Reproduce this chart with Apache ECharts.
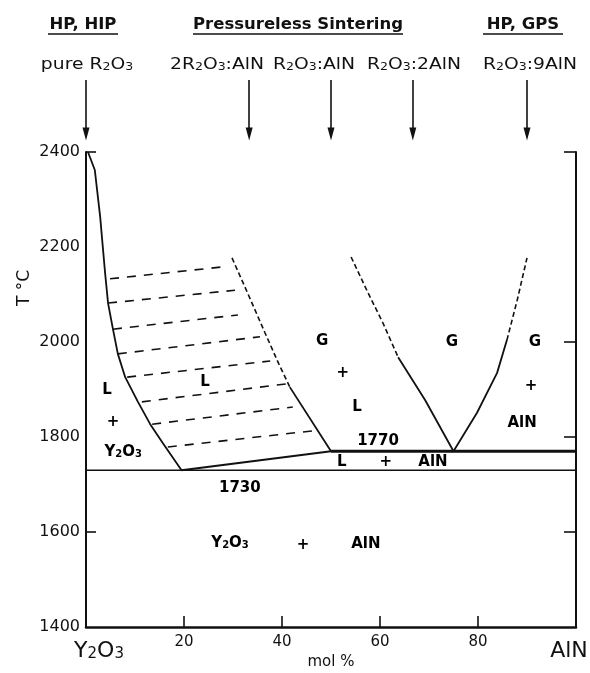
<!DOCTYPE html>
<html><head><meta charset="utf-8">
<script src="https://cdn.jsdelivr.net/npm/echarts@6/dist/echarts.min.js"></script>
<style>html,body{margin:0;padding:0;background:#fff}#c{width:590px;height:673px}</style>
</head><body><div id="c"></div>
<script>
// ---------- data ----------
const xTickLabels = [20, 40, 60, 80];
const yMin = 1400, yMax = 2400, yStep = 200;
const xMin = 0, xMax = 100;

const liquidusLeft = [[0.4,2400],[1.8,2362],[2.9,2263],[3.3,2215],[3.9,2145],[4.5,2082],[5.5,2027],[6.5,1975],[8.0,1926],[10.6,1874],[13.1,1827],[15.7,1787],[19.5,1730]];
const eutecticLine = [[19.5,1730],[50,1770]];
const line1770 = [[50,1770],[100,1770]];
const line1730 = [[0,1730],[100,1730]];
const boundaryDashed = [[29.8,2177],[33.2,2098],[36.5,2020],[39.3,1955],[41.6,1905]];
const boundarySolid = [[41.6,1905],[50,1770]];
const vLeftDashed = [[54.1,2179],[57.3,2109],[60.6,2040],[63.7,1968]];
const vLeftSolid = [[63.7,1968],[69.2,1878],[75,1770]];
const vRightSolid = [[75,1770],[79.8,1851],[83.9,1935],[85.9,2004]];
const vRightDashed = [[85.9,2004],[88.0,2088],[90.0,2177]];
const tieLines = [
  [[4.9,2133],[27.8,2158]],
  [[4.5,2082],[30.4,2109]],
  [[5.5,2027],[31.0,2057]],
  [[6.5,1975],[35.5,2011]],
  [[8.4,1926],[37.6,1960]],
  [[11.4,1874],[41.0,1912]],
  [[13.5,1827],[42.2,1863]],
  [[16.7,1779],[46.3,1813]]
];
const regionLabels = [
  ['G',48.2,2002],['G',74.7,2000],['G',91.6,2000],
  ['+',52.4,1935],['L',55.3,1863],['+',90.8,1907],['AlN',89.0,1829],
  ['1770',59.6,1792],['L',52.2,1747],['+',61.2,1747],['AlN',70.8,1747],
  ['L',4.3,1899],['+',5.5,1832],['Y2O3',7.6,1768],['L',24.3,1916],
  ['1730',31.4,1693],['Y2O3',29.4,1577],['+',44.3,1573],['AlN',57.1,1575]
];
const arrowCompositions = [0, 33.3, 50, 66.7, 90];
const arrowLabels = ['pure R2O3', '2R2O3:AlN', 'R2O3:AlN', 'R2O3:2AlN', 'R2O3:9AlN'];
const headings = ['HP, HIP', 'Pressureless Sintering', 'HP, GPS'];
const xName = 'mol %';
const yName = 'T °C';
const endLabels = ['Y2O3', 'AlN'];

// ---------- helpers ----------
const FONT = '"DejaVu Sans", "Liberation Sans", sans-serif';
const sub = s => s.replace(/([A-Za-z])(\d)/g, '$1{s|$2}');
const C = '#111';

function lineSeries(data, width, type) {
  return {
    type: 'line', xAxisIndex: 0, yAxisIndex: 0, data: data,
    showSymbol: false, symbol: 'none', silent: true, animation: false, clip: false,
    lineStyle: { color: C, width: width, type: type || 'solid' }
  };
}

const series = [
  lineSeries(liquidusLeft, 1.8),
  lineSeries(eutecticLine, 2.2),
  lineSeries(line1770, 3),
  lineSeries(line1730, 1.6),
  lineSeries(boundaryDashed, 1.6, [5, 3]),
  lineSeries(boundarySolid, 1.8),
  lineSeries(vLeftDashed, 1.6, [5, 3]),
  lineSeries(vLeftSolid, 1.8),
  lineSeries(vRightSolid, 1.8),
  lineSeries(vRightDashed, 1.6, [5, 3])
];
tieLines.forEach(t => series.push(lineSeries(t, 1.6, [9, 8])));

series.push({
  type: 'scatter', xAxisIndex: 0, yAxisIndex: 0, symbolSize: 0, silent: true, animation: false,
  itemStyle: { opacity: 1, color: '#000' },
  data: regionLabels.map(r => ({ name: r[0], value: [r[1], r[2]] })),
  label: {
    show: true, position: 'inside', color: '#000', opacity: 1, fontFamily: FONT, fontSize: 15, fontWeight: 'bold',
    formatter: p => sub(p.name),
    rich: { s: { fontSize: 10, fontFamily: FONT, fontWeight: 'bold', color: '#000', verticalAlign: 'bottom' } }
  }
});

// arrow shafts
series.push({
  type: 'lines', coordinateSystem: 'cartesian2d', xAxisIndex: 1, yAxisIndex: 2,
  silent: true, animation: false, clip: false,
  symbol: ['none', 'none'],
  lineStyle: { color: C, width: 1.6, opacity: 1 },
  data: arrowCompositions.map(c => ({ coords: [[c, 1], [c, 0.1]] }))
});
// arrow heads
series.push({
  type: 'scatter', xAxisIndex: 1, yAxisIndex: 2, silent: true, animation: false, clip: false,
  symbol: 'triangle', symbolRotate: 180, symbolSize: [7, 13], symbolOffset: [0, -6],
  itemStyle: { color: C, opacity: 1 },
  data: arrowCompositions.map(c => [c, 0])
});

const graphic = [];
const headX = [83, 298, 523];
const headSpan = [[48,118],[193,403],[483,563]];
headings.forEach((h, i) => {
  graphic.push({ type: 'text', x: headX[i], y: 25, scaleX: 1.1, silent: true,
    style: { text: h, font: 'bold 15px ' + FONT, fill: C, align: 'center', verticalAlign: 'middle' } });
  graphic.push({ type: 'line', silent: true,
    shape: { x1: headSpan[i][0], y1: 34, x2: headSpan[i][1], y2: 34 },
    style: { stroke: C, lineWidth: 1.3 } });
});
const labX = [87, 217, 314, 414, 530];
arrowLabels.forEach((t, i) => {
  graphic.push({ type: 'text', x: labX[i], y: 65, scaleX: 1.25, silent: true,
    style: { text: sub(t), font: '15px ' + FONT, fill: C, align: 'center', verticalAlign: 'middle',
      rich: { s: { font: '10px ' + FONT, fill: C, verticalAlign: 'bottom' } } } });
});
graphic.push({ type: 'text', x: 25, y: 288, rotation: Math.PI / 2, silent: true,
  style: { text: yName, font: '17px ' + FONT, fill: C, align: 'center', verticalAlign: 'middle' } });
graphic.push({ type: 'text', x: 99, y: 651, silent: true,
  style: { text: sub(endLabels[0]), font: '22px ' + FONT, fill: C, align: 'center', verticalAlign: 'middle',
    rich: { s: { font: '15px ' + FONT, fill: C, verticalAlign: 'bottom' } } } });
graphic.push({ type: 'text', x: 569, y: 651, silent: true,
  style: { text: endLabels[1], font: '22px ' + FONT, fill: C, align: 'center', verticalAlign: 'middle' } });

const chart = echarts.init(document.getElementById('c'), null, { renderer: 'canvas' });
chart.setOption({
  animation: false,
  backgroundColor: '#fff',
  grid: [
    { left: 86, right: 14, top: 152, bottom: 46, outerBoundsMode: 'none', containLabel: false },
    { left: 86, right: 14, top: 80, height: 60, outerBoundsMode: 'none', containLabel: false }
  ],
  xAxis: [
    { type: 'value', gridIndex: 0, min: xMin, max: xMax, interval: 20,
      name: xName, nameLocation: 'middle', nameGap: 28,
      nameTextStyle: { color: C, fontFamily: FONT, fontSize: 15 },
      axisLine: { show: true, onZero: false, lineStyle: { color: C, width: 2.5 } },
      axisTick: { show: true, inside: true, length: 11, customValues: xTickLabels, lineStyle: { color: C, width: 1.6 } },
      axisLabel: { show: true, customValues: xTickLabels, margin: 8, color: C, fontFamily: FONT, fontSize: 15,
        formatter: v => String(v) },
      splitLine: { show: false } },
    { type: 'value', gridIndex: 1, min: xMin, max: xMax, show: false }
  ],
  yAxis: [
    { type: 'value', gridIndex: 0, min: yMin, max: yMax, interval: yStep, position: 'left',
      axisLine: { show: true, onZero: false, lineStyle: { color: C, width: 2 } },
      axisTick: { show: true, inside: true, length: 10, customValues: [1600, 2400], lineStyle: { color: C, width: 1.6 } },
      axisLabel: { show: true, margin: 6, color: C, fontFamily: FONT, fontSize: 16, formatter: v => String(v) },
      splitLine: { show: false } },
    { type: 'value', gridIndex: 0, min: yMin, max: yMax, interval: yStep, position: 'right',
      axisLine: { show: true, onZero: false, lineStyle: { color: C, width: 2 } },
      axisTick: { show: true, inside: true, length: 12, customValues: [1600, 1800, 2000, 2400], lineStyle: { color: C, width: 1.6 } },
      axisLabel: { show: false },
      splitLine: { show: false } },
    { type: 'value', gridIndex: 1, min: 0, max: 1, show: false }
  ],
  series: series,
  graphic: graphic
});
</script></body></html>
